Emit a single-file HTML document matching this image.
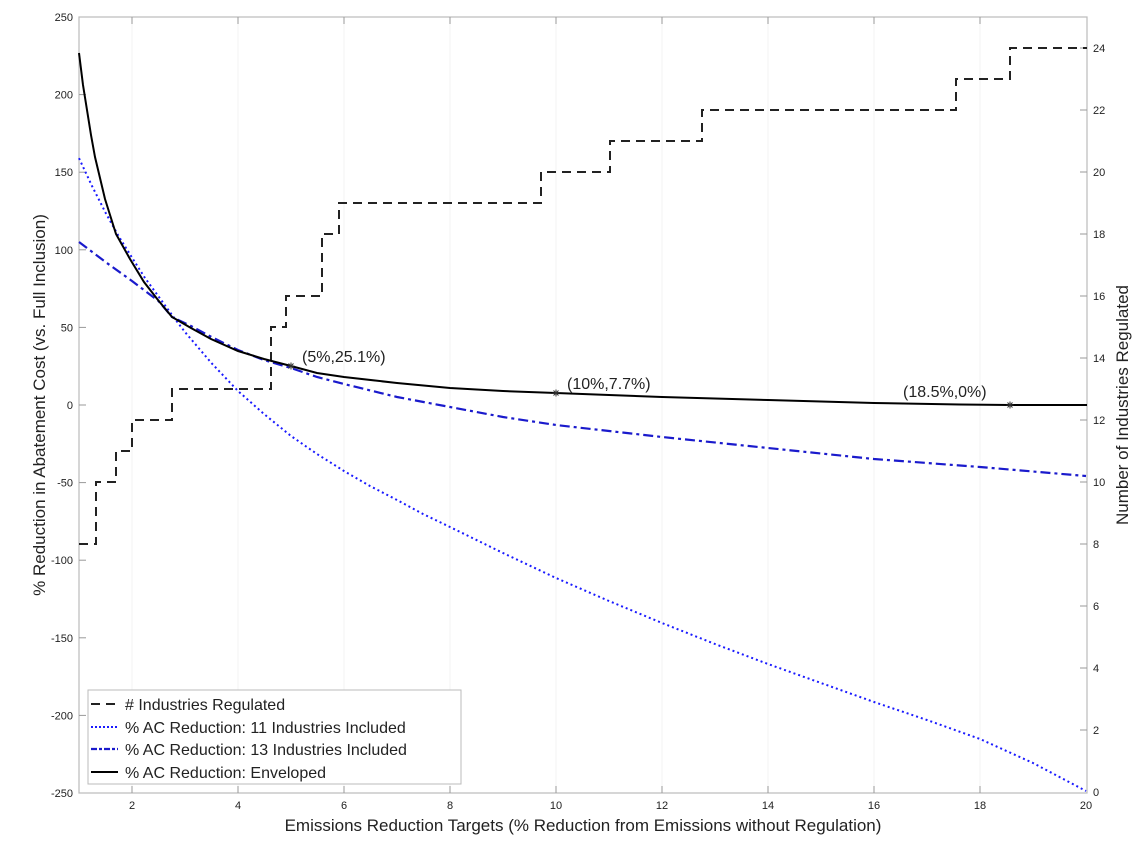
<!DOCTYPE html>
<html><head><meta charset="utf-8"><style>
html,body{margin:0;padding:0;background:#fff}
text{font-family:"Liberation Sans",Arial,sans-serif;fill:#222}
</style></head><body>
<svg width="1139" height="847" viewBox="0 0 1139 847" xmlns="http://www.w3.org/2000/svg">
<defs><g id="st" stroke="#333" stroke-width="1"><line x1="-3.5" y1="0" x2="3.5" y2="0"/><line x1="0" y1="-3.5" x2="0" y2="3.5"/><line x1="-2.5" y1="-2.5" x2="2.5" y2="2.5"/><line x1="-2.5" y1="2.5" x2="2.5" y2="-2.5"/></g></defs>
<rect width="1139" height="847" fill="#fff"/>
<g stroke="#f3f3f3" stroke-width="1">
<line x1="132" y1="17" x2="132" y2="793"/><line x1="238" y1="17" x2="238" y2="793"/><line x1="344" y1="17" x2="344" y2="793"/><line x1="450" y1="17" x2="450" y2="793"/><line x1="556" y1="17" x2="556" y2="793"/><line x1="662" y1="17" x2="662" y2="793"/><line x1="768" y1="17" x2="768" y2="793"/><line x1="874" y1="17" x2="874" y2="793"/><line x1="980" y1="17" x2="980" y2="793"/>
</g>
<rect x="79" y="17" width="1008" height="776" fill="none" stroke="#bbb" stroke-width="1.2"/>
<g stroke="#999" stroke-width="1">
<line x1="132" y1="793" x2="132" y2="786"/><line x1="238" y1="793" x2="238" y2="786"/><line x1="344" y1="793" x2="344" y2="786"/><line x1="450" y1="793" x2="450" y2="786"/><line x1="556" y1="793" x2="556" y2="786"/><line x1="662" y1="793" x2="662" y2="786"/><line x1="768" y1="793" x2="768" y2="786"/><line x1="874" y1="793" x2="874" y2="786"/><line x1="980" y1="793" x2="980" y2="786"/>
<line x1="132" y1="17" x2="132" y2="24"/><line x1="238" y1="17" x2="238" y2="24"/><line x1="344" y1="17" x2="344" y2="24"/><line x1="450" y1="17" x2="450" y2="24"/><line x1="556" y1="17" x2="556" y2="24"/><line x1="662" y1="17" x2="662" y2="24"/><line x1="768" y1="17" x2="768" y2="24"/><line x1="874" y1="17" x2="874" y2="24"/><line x1="980" y1="17" x2="980" y2="24"/>
<line x1="79" y1="94.6" x2="86" y2="94.6"/><line x1="79" y1="172.2" x2="86" y2="172.2"/><line x1="79" y1="249.8" x2="86" y2="249.8"/><line x1="79" y1="327.4" x2="86" y2="327.4"/><line x1="79" y1="405" x2="86" y2="405"/><line x1="79" y1="482.6" x2="86" y2="482.6"/><line x1="79" y1="560.2" x2="86" y2="560.2"/><line x1="79" y1="637.8" x2="86" y2="637.8"/><line x1="79" y1="715.4" x2="86" y2="715.4"/>
<line x1="1087" y1="48" x2="1080" y2="48"/><line x1="1087" y1="110" x2="1080" y2="110"/><line x1="1087" y1="172" x2="1080" y2="172"/><line x1="1087" y1="234" x2="1080" y2="234"/><line x1="1087" y1="296" x2="1080" y2="296"/><line x1="1087" y1="358" x2="1080" y2="358"/><line x1="1087" y1="420" x2="1080" y2="420"/><line x1="1087" y1="482" x2="1080" y2="482"/><line x1="1087" y1="544" x2="1080" y2="544"/><line x1="1087" y1="606" x2="1080" y2="606"/><line x1="1087" y1="668" x2="1080" y2="668"/><line x1="1087" y1="730" x2="1080" y2="730"/>
</g>
<g font-size="11" text-anchor="end">
<text x="73" y="21">250</text><text x="73" y="98.6">200</text><text x="73" y="176.2">150</text><text x="73" y="253.8">100</text><text x="73" y="331.4">50</text><text x="73" y="409">0</text><text x="73" y="486.6">-50</text><text x="73" y="564.2">-100</text><text x="73" y="641.8">-150</text><text x="73" y="719.4">-200</text><text x="73" y="797">-250</text>
</g>
<g font-size="11" text-anchor="start">
<text x="1093" y="52">24</text><text x="1093" y="114">22</text><text x="1093" y="176">20</text><text x="1093" y="238">18</text><text x="1093" y="300">16</text><text x="1093" y="362">14</text><text x="1093" y="424">12</text><text x="1093" y="486">10</text><text x="1093" y="548">8</text><text x="1093" y="610">6</text><text x="1093" y="672">4</text><text x="1093" y="734">2</text><text x="1093" y="796">0</text>
</g>
<g font-size="11" text-anchor="middle">
<text x="132" y="809">2</text><text x="238" y="809">4</text><text x="344" y="809">6</text><text x="450" y="809">8</text><text x="556" y="809">10</text><text x="662" y="809">12</text><text x="768" y="809">14</text><text x="874" y="809">16</text><text x="980" y="809">18</text><text x="1086" y="809">20</text>
</g>
<text x="583" y="831" font-size="17" text-anchor="middle">Emissions Reduction Targets (% Reduction from Emissions without Regulation)</text>
<text transform="translate(45,405) rotate(-90)" font-size="17" text-anchor="middle">% Reduction in Abatement Cost (vs. Full Inclusion)</text>
<text transform="translate(1128,405) rotate(-90)" font-size="17" text-anchor="middle">Number of Industries Regulated</text>
<polyline fill="none" stroke="#222" stroke-width="2" stroke-dasharray="9,6" points="79,544 96,544 96,482 116,482 116,451 132,451 132,420 172,420 172,389 271,389 271,327 286,327 286,296 322,296 322,234 339,234 339,203 541,203 541,172 610,172 610,141 702,141 702,110 956,110 956,79 1010,79 1010,48 1087,48"/>
<polyline fill="none" stroke="#1a1aff" stroke-width="2" stroke-dasharray="2,3" points="79,158.2 92,186 105.5,212.6 118.5,236 132,257.6 145,278 158.5,296.4 172,315 185,332.1 211.5,363.1 238,391 264,414 291,436 317,454 344,471 370,486 397,500 423,514 450,527 503,553 556,578 609,601 662,623 715,644 768,664 821,683 874,702 927,720 980,739 1033,763 1086,791"/>
<polyline fill="none" stroke="#1a1acc" stroke-width="2.2" stroke-dasharray="10,4,3,4" points="79,242 105.5,262 132,281 158.5,301 172,317 191,326 211.5,337 238,350 264,360 291,368 317,377 344,384 397,397 450,407 503,417 556,425 609,431 662,437 768,448 874,459 980,467 1086,476"/>
<polyline fill="none" stroke="#000" stroke-width="2" points="79,53 83,85 87,110 91,135 95,157 105,199 116,234 130,259 144,282 158,300 172,317 191,328 211,339 238,351 264,359 291,366 317,373 344,377 397,383 450,388 503,391 556,393 609,395 662,397 768,400 874,403 960,404.5 1010,405 1087,405"/>
<use href="#st" x="291" y="366"/><use href="#st" x="556" y="393"/><use href="#st" x="1010" y="405"/>
<g font-size="16"><text x="302" y="362">(5%,25.1%)</text><text x="567" y="389">(10%,7.7%)</text><text x="903" y="397">(18.5%,0%)</text></g>
<rect x="88" y="690" width="373" height="94" fill="#fff" stroke="#bbb" stroke-width="1"/>
<line x1="91" y1="704" x2="118" y2="704" stroke="#222" stroke-width="2" stroke-dasharray="9,6"/>
<line x1="91" y1="727" x2="118" y2="727" stroke="#1a1aff" stroke-width="2" stroke-dasharray="2,2"/>
<line x1="91" y1="749" x2="118" y2="749" stroke="#1a1acc" stroke-width="2.2" stroke-dasharray="6,2,3,2"/>
<line x1="91" y1="772" x2="118" y2="772" stroke="#000" stroke-width="2"/>
<g font-size="16"><text x="125" y="710">&#35; Industries Regulated</text><text x="125" y="733">% AC Reduction: 11 Industries Included</text><text x="125" y="755">% AC Reduction: 13 Industries Included</text><text x="125" y="778">% AC Reduction: Enveloped</text></g>
</svg>
</body></html>
